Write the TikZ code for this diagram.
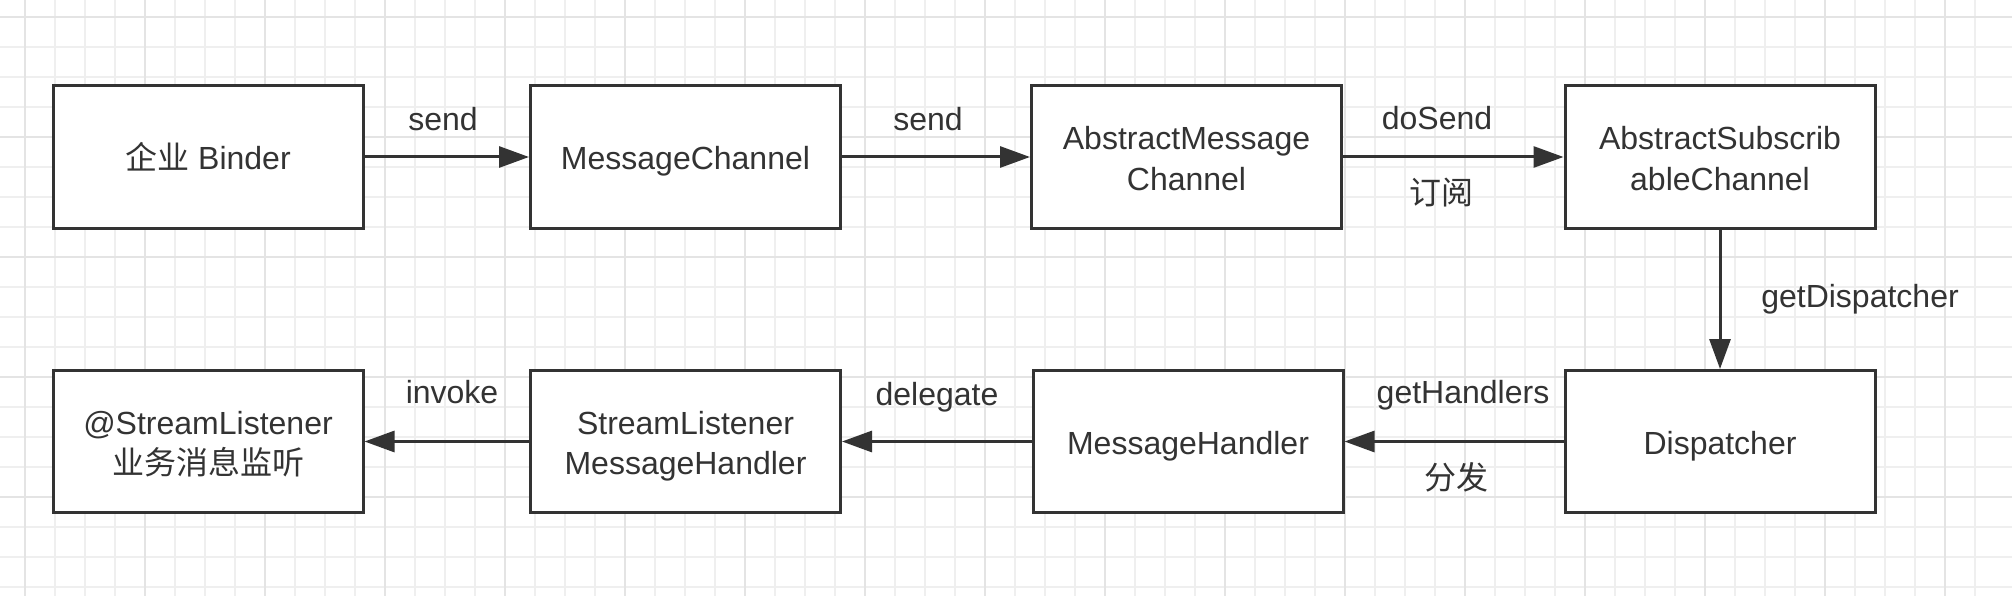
\documentclass[tikz,border=0pt]{standalone}
\usepackage{fontspec}
\setmainfont{Liberation Sans}
\newfontfamily\cjk{Noto Sans CJK SC}
\usetikzlibrary{arrows.meta}
\definecolor{ink}{HTML}{333333}
\definecolor{gridminor}{HTML}{EFEFEF}
\definecolor{gridmajor}{HTML}{E4E4E4}
\begin{document}
\begin{tikzpicture}[x=1pt,y=-1pt,
  box/.style={draw=ink,line width=3pt,fill=white,minimum width=310pt,minimum height=142pt,
    align=center,text=ink,inner sep=0pt,text height=29pt,text depth=4pt,font=\fontsize{32}{40}\selectfont},
  box2/.style={box,text height=70pt,text depth=4pt},
  conn/.style={draw=ink,line width=3pt,-{Triangle[length=30pt,width=21pt]}},
  lbl/.style={text=ink,inner sep=0pt,font=\fontsize{32}{40}\selectfont},
  cjklbl/.style={text=ink,inner sep=0pt,font=\fontsize{32}{40}\selectfont\cjk}]
\fill[white] (0,0) rectangle (2012,596);
\useasboundingbox (0,0) rectangle (2012,596);
% grid
\foreach \i in {0,...,66} {\draw[gridminor,line width=1.2pt] ({25+30*\i-30},0) -- ({25+30*\i-30},596);}
\foreach \j in {0,...,20} {\draw[gridminor,line width=1.2pt] (0,{17+30*\j-30}) -- (2012,{17+30*\j-30});}
\foreach \i in {0,...,16} {\draw[gridmajor,line width=2pt] ({25+120*\i},0) -- ({25+120*\i},596);}
\foreach \j in {0,...,4} {\draw[gridmajor,line width=2pt] (0,{17+120*\j}) -- (2012,{17+120*\j});}
% boxes
\node[box] (b1) at (208,157) {{\cjk 企业} Binder};
\node[box] (b2) at (685.5,157) {MessageChannel};
\node[box2] (b3) at (1186.5,157) {AbstractMessage\\Channel};
\node[box2] (b4) at (1720,157) {AbstractSubscrib\\ableChannel};
\node[box2] (b5) at (208,441.5) {@StreamListener\\{\cjk 业务消息监听}};
\node[box2] (b6) at (685.5,441.5) {StreamListener\\MessageHandler};
\node[box] (b7) at (1188,441.5) {MessageHandler};
\node[box] (b8) at (1720,441.5) {Dispatcher};
% connectors
\draw[conn] (b1) -- (b2);
\draw[conn] (b2) -- (b3);
\draw[conn] (b3) -- (b4);
\draw[conn] (b4) -- (b8);
\draw[conn] (b8) -- (b7);
\draw[conn] (b7) -- (b6);
\draw[conn] (b6) -- (b5);
% labels
\node[lbl,anchor=base] (l1) at (443,131) {send};
\node[lbl,anchor=base] (l2) at (928,131) {send};
\node[lbl,anchor=base] (l3) at (1437,130) {doSend};
\node[cjklbl] (l4) at (1441,193) {订阅};
\node[lbl,anchor=base] (l5) at (1860,307) {getDispatcher};
\node[lbl,anchor=base] (l6) at (1463,403) {getHandlers};
\node[cjklbl] (l7) at (1456,477) {分发};
\node[lbl,anchor=base] (l8) at (937,405) {delegate};
\node[lbl,anchor=base] (l9) at (452,403) {invoke};
\end{tikzpicture}
\end{document}
